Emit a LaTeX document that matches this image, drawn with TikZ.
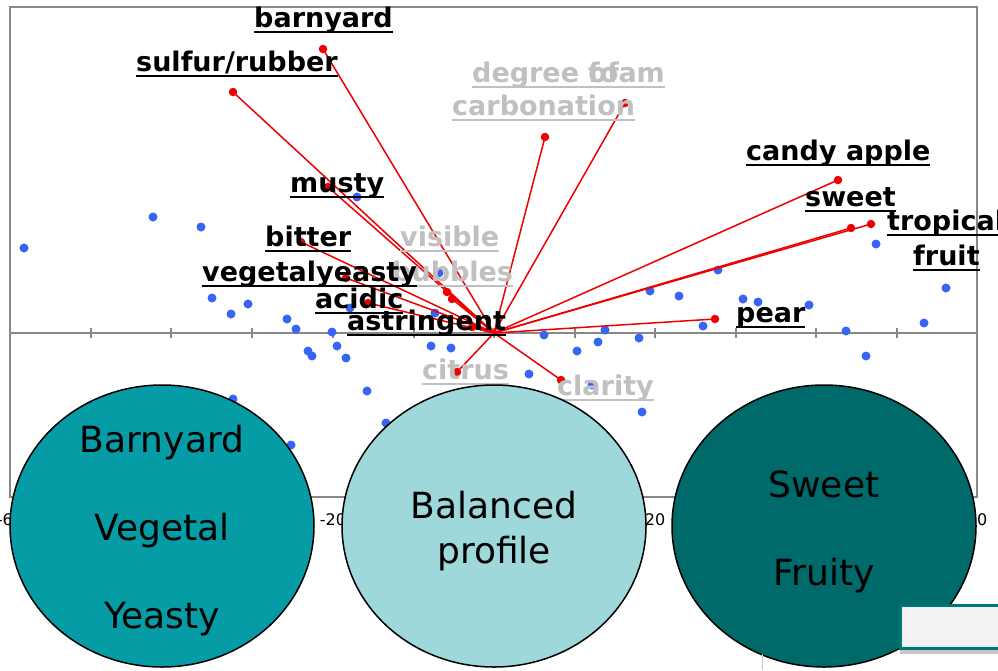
\documentclass[tikz,border=0pt]{standalone}
\usepackage{fontspec}
\usetikzlibrary{shapes.geometric}
\newfontfamily\vfont{DejaVu Sans}

\definecolor{axisgray}{RGB}{136,136,136}
\definecolor{dotblue}{RGB}{55,100,245}
\definecolor{vecred}{RGB}{238,0,0}
\definecolor{lblgray}{RGB}{192,192,192}
\definecolor{tealA}{RGB}{6,156,166}
\definecolor{tealB}{RGB}{158,216,218}
\definecolor{tealC}{RGB}{0,105,105}
\definecolor{boxgray}{RGB}{242,242,242}
\definecolor{boxedge}{RGB}{0,118,118}

% underline at a fixed depth below the baseline
\newlength\ulwd
\newcommand\ulword[1]{\settowidth{\ulwd}{#1}\rlap{\rule[-0.235em]{\ulwd}{0.078em}}#1}

\tikzset{
  frameline/.style={draw=axisgray, line width=2pt},
  tickline/.style={draw=axisgray, line width=1.6pt},
  bdot/.style={circle, fill=dotblue, draw=none, inner sep=0pt, minimum size=9pt},
  rdot/.style={circle, fill=vecred, draw=none, inner sep=0pt, minimum size=8.5pt},
  vec/.style={draw=vecred, line width=1.5pt},
  blab/.style={anchor=base west, inner sep=0pt, text=black,
    font=\vfont\bfseries\fontsize{27}{27}\selectfont},
  glab/.style={blab, text=lblgray},
  ticklab/.style={anchor=base, inner sep=0pt, font=\vfont\fontsize{16}{16}\selectfont},
  blob/.style={ellipse, draw=black, line width=1.5pt, inner sep=0pt,
    minimum width=304pt, minimum height=282pt},
  blobtext/.style={anchor=base, inner sep=0pt, text=black,
    font=\vfont\fontsize{36}{36}\selectfont},
}

\begin{document}
\begin{tikzpicture}[x=1pt, y=-1pt]
\useasboundingbox (0,0) rectangle (998,670);
\fill[white] (0,0) rectangle (998,670);

% plot frame and horizontal axis
\draw[frameline] (10,7) rectangle (977,497);
\draw[frameline] (10,333) -- (977,333);
\foreach \tx in {91,171,252,333,414,494,575,655,736,816,897}
  \draw[tickline] (\tx,328) -- (\tx,338);

% axis tick labels
\node[ticklab] (tm60) at (10,525) {-60};
\node[ticklab] (tm40) at (171,525) {-40};
\node[ticklab] (tm20) at (333,525) {-20};
\node[ticklab] (t0) at (494,525) {0};
\node[ticklab] (t20) at (655,525) {20};
\node[ticklab] (t40) at (816,525) {40};
\node[ticklab] (t60) at (977,525) {60};

% sample scores
\foreach \px/\py in {24/248, 153/217, 201/227, 212/298, 248/304, 231/314,
    357/197, 439/273, 350/308, 435/313, 287/319, 296/329, 332/332, 337/346,
    308/351, 312/356, 346/358, 431/346, 451/348, 367/391, 386/423, 291/445,
    233/399, 718/270, 650/291, 679/296, 743/299, 758/302, 809/305, 703/326,
    605/330, 544/335, 577/351, 598/342, 639/338, 529/374, 642/412, 592/385,
    876/244, 946/288, 924/323, 846/331, 866/356}
  \node[bdot] at (\px,\py) {};

% attribute loadings
\coordinate (o) at (494,333);
\node[rdot] (pbarn) at (323,49) {};
\node[rdot] (psulf) at (233,92) {};
\node[rdot] (pmust) at (328,187) {};
\node[rdot] (pbitt) at (301,242) {};
\node[rdot] (pvege) at (346,278) {};
\node[rdot] (pyeas) at (452,299) {};
\node[rdot] (pvisi) at (447,292) {};
\node[rdot] (pacid) at (368,303) {};
\node[rdot] (pastr) at (472,327) {};
\node[rdot] (pfoam) at (545,137) {};
\node[rdot] (pcarb) at (625,103) {};
\node[rdot] (pcand) at (838,180) {};
\node[rdot] (pswee) at (851,228) {};
\node[rdot] (ptrop) at (871,224) {};
\node[rdot] (ppear) at (715,319) {};
\node[rdot] (pcitr) at (457,372) {};
\node[rdot] (pclar) at (561,380) {};
\foreach \p in {pbarn,psulf,pmust,pbitt,pvege,pyeas,pvisi,pacid,pastr,
    pfoam,pcarb,pcand,pswee,ptrop,ppear,pcitr,pclar}
  \draw[vec] (o) -- (\p.center);

% attribute labels
\node[blab] (lbarn) at (254,27) {\ulword{barnyard}};
\node[blab] (lsulf) at (136,71) {\ulword{sulfur/rubber}};
\node[glab] (ldeg) at (472,82) {\ulword{degree of}};
\node[glab] (lfoam) at (588,82) {\ulword{foam}};
\node[glab] (lcarb) at (452,115) {\ulword{carbonation}};
\node[blab] (lmust) at (290,192) {\ulword{musty}};
\node[blab] (lbitt) at (265,246) {\ulword{bitter}};
\node[glab] (lvisi) at (400,246) {\ulword{visible}};
\node[glab] (lbubb) at (392,281) {\ulword{bubbles}};
\node[blab] (lvege) at (202,281) {\ulword{vegetal}};
\node[blab] (lyeas) at (316,281) {\ulword{yeasty}};
\node[blab] (lacid) at (315,308) {\ulword{acidic}};
\node[blab] (lastr) at (347,330) {\ulword{astringent}};
\node[glab] (lcitr) at (422,379) {\ulword{citrus}};
\node[glab] (lclar) at (557,395) {\ulword{clarity}};
\node[blab] (lcand) at (746,160) {\ulword{candy apple}};
\node[blab] (lswee) at (805,206) {\ulword{sweet}};
\node[blab] (ltrop) at (887,230) {\ulword{tropical}};
\node[blab] (lfrui) at (913,265) {\ulword{fruit}};
\node[blab] (lpear) at (736,322) {\ulword{pear}};

% flavour clusters
\node[blob, fill=tealA] (cl1) at (162,526) {};
\node[blob, fill=tealB] (cl2) at (494,526) {};
\node[blob, fill=tealC] (cl3) at (824,526) {};
\node[blobtext] (cl1a) at (162,452) {Barnyard};
\node[blobtext] (cl1b) at (162,540) {Vegetal};
\node[blobtext] (cl1c) at (162,628) {Yeasty};
\node[blobtext] (cl2a) at (494,518) {Balanced};
\node[blobtext] (cl2b) at (494,563) {profile};
\node[blobtext] (cl3a) at (824,497) {Sweet};
\node[blobtext] (cl3b) at (824,585) {Fruity};

% panel at the lower right
\draw[axisgray!50, line width=1pt] (762,654) -- (762,670);
\fill[black!22] (900,648) rectangle (1000,654);
\node[draw=boxedge, fill=boxgray, line width=2.5pt, anchor=north west,
  minimum width=110pt, minimum height=43pt, inner sep=0pt] (panel) at (899,604) {};
\end{tikzpicture}
\end{document}
